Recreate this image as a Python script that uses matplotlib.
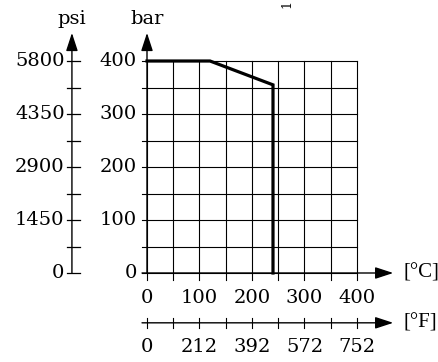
import matplotlib
matplotlib.use("Agg")
import matplotlib.pyplot as plt

# pressure/temperature derating curve
temp_c = [0, 120, 240, 240]
press_bar = [400, 400, 355, 0]

bar_ticks = [0, 100, 200, 300, 400]
psi_ticks = [0, 1450, 2900, 4350, 5800]
c_ticks = [0, 100, 200, 300, 400]
f_labels = ["0", "212", "392", "572", "752"]
grid_step = 50

plt.rcParams["font.family"] = ["DejaVu Serif"]
FS = 14

fig = plt.figure(figsize=(4.39, 3.62), dpi=100)
ax = fig.add_axes([147 / 439, 89 / 362, 210 / 439, 212 / 362])
ax.set_xlim(0, 400)
ax.set_ylim(0, 400)
ax.axis("off")

# grid (lines poke out a bit as ticks)
for v in range(0, 401, grid_step):
    ax.plot([-9.5, 400], [v, v], color="black", lw=0.8, clip_on=False)
    ax.plot([v, v], [-13, 400], color="black", lw=0.8, clip_on=False)

arrow = dict(arrowstyle="-|>,head_length=1.1,head_width=0.36", color="black",
             lw=1.0, mutation_scale=10, shrinkA=0, shrinkB=0)

# bar axis
ax.annotate("", xy=(0, 453), xytext=(0, 0), arrowprops=arrow, annotation_clip=False)
for b in bar_ticks:
    ax.text(-19, b, str(b), ha="right", va="center", fontsize=FS)
ax.text(0, 470, "bar", ha="center", va="baseline", fontsize=FS)

# psi axis
px = -143
ax.annotate("", xy=(px, 453), xytext=(px, 0), arrowprops=arrow, annotation_clip=False)
for v in range(0, 401, grid_step):
    ax.plot([px - 9, px + 15], [v, v], color="black", lw=0.9, clip_on=False)
for p in psi_ticks:
    ax.text(px - 14, p / 14.5, str(p), ha="right", va="center", fontsize=FS)
ax.text(px, 470, "psi", ha="center", va="baseline", fontsize=FS)

unit_font = ["Liberation Serif", "DejaVu Serif"]

# °C axis
ax.annotate("", xy=(469, 0), xytext=(-9.5, 0), arrowprops=arrow, annotation_clip=False)
for c in c_ticks:
    ax.text(c, -47, str(c), ha="center", va="center", fontsize=FS)
ax.text(489, 0, "[°C]", ha="left", va="center", fontsize=15, family=unit_font)

# °F axis
fy = -94
ax.annotate("", xy=(469, fy), xytext=(-9.5, fy), arrowprops=arrow, annotation_clip=False)
for v in range(0, 401, grid_step):
    ax.plot([v, v], [fy - 9, fy + 9], color="black", lw=0.8, clip_on=False)
for c, lab in zip(c_ticks, f_labels):
    ax.text(c, -140, lab, ha="center", va="center", fontsize=FS)
ax.text(489, fy, "[°F]", ha="left", va="center", fontsize=15, family=unit_font)

# curve
ax.plot(temp_c, press_bar, color="black", lw=2.3, solid_joinstyle="miter", clip_on=False)

# cut-off drawing id at the top
fig.text(287 / 439, 1 - 8 / 362, "1", rotation=90, fontsize=9, ha="center", va="bottom")

fig.savefig("out.png", dpi=100)
